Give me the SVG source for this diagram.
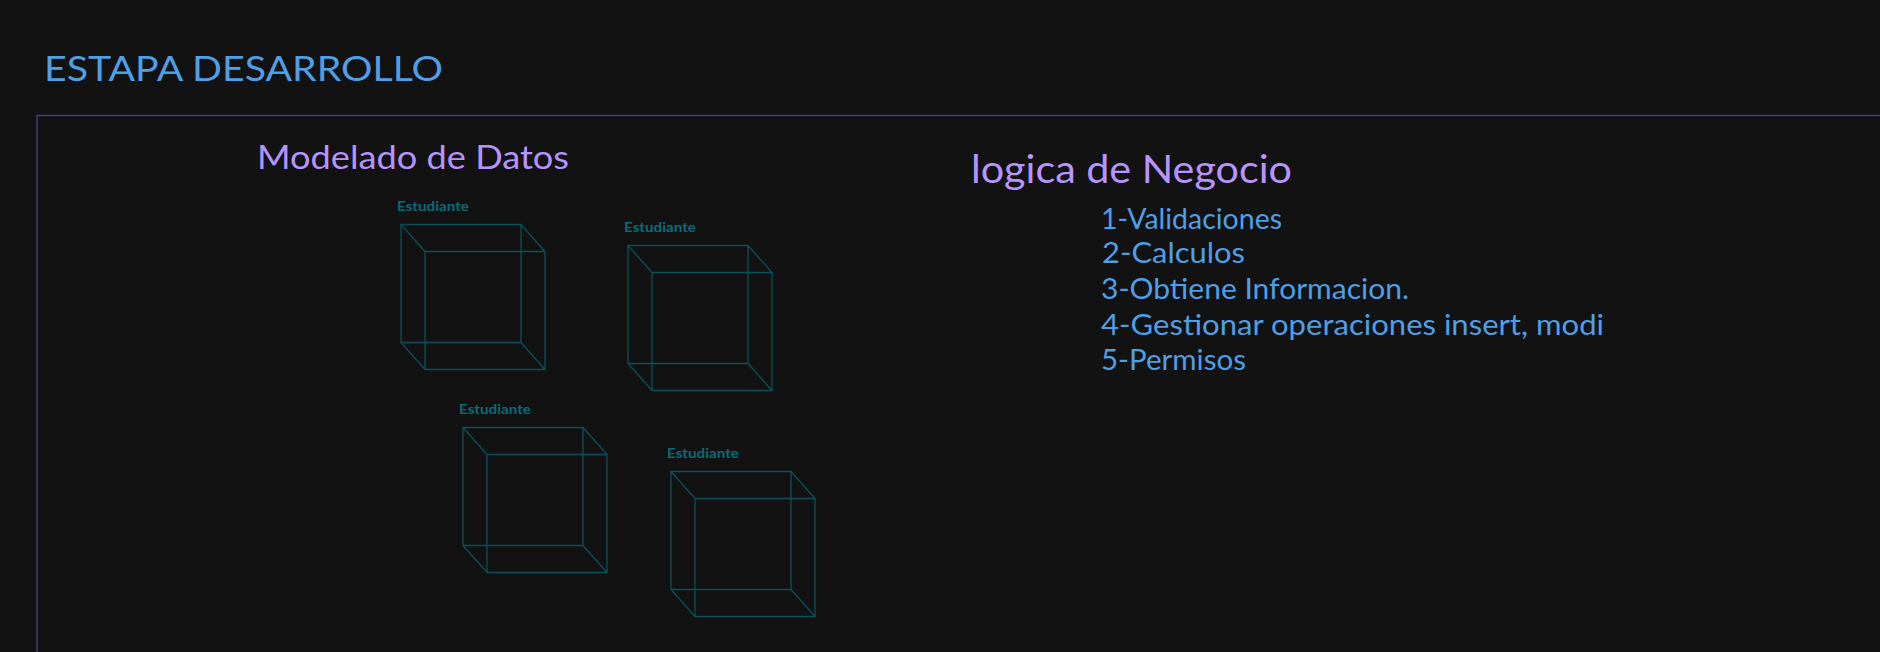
<svg xmlns="http://www.w3.org/2000/svg" width="1880" height="652" viewBox="0 0 1880 652">
<style>
text{font-family:"Lato","Noto Sans",sans-serif}
.cube{fill:none;stroke:#0a4f5a;stroke-width:1.300}
.lbl{fill:#0b6a7a;font-size:14px;font-weight:700}
.blue{fill:#4f9fe6}
.purple{fill:#b794ff}
.item{font-size:28px}
</style>
<rect width="1880" height="652" fill="#121212"/>
<g id="frame"><path d="M37 652V115.500H1880" fill="none" stroke="#4a3a78" stroke-width="1.500"/></g>
<g id="title"><text class="blue" x="44" y="81" font-size="35" textLength="399" lengthAdjust="spacingAndGlyphs">ESTAPA DESARROLLO</text></g>
<g id="modelado"><text class="purple" x="257" y="169" font-size="32" textLength="312" lengthAdjust="spacingAndGlyphs">Modelado de Datos</text></g>
<g id="logica"><text class="purple" x="971" y="183" font-size="38" textLength="321" lengthAdjust="spacingAndGlyphs">logica de Negocio</text></g>
<g id="list">
<text class="blue item" x="1101" y="229" textLength="181" lengthAdjust="spacingAndGlyphs">1-Validaciones</text>
<text class="blue item" x="1102" y="263" textLength="143" lengthAdjust="spacingAndGlyphs">2-Calculos</text>
<text class="blue item" x="1101" y="299" textLength="308" lengthAdjust="spacingAndGlyphs">3-Obtiene Informacion.</text>
<text class="blue item" x="1101" y="335" textLength="503" lengthAdjust="spacingAndGlyphs">4-Gestionar operaciones insert, modi</text>
<text class="blue item" x="1101" y="370" textLength="145" lengthAdjust="spacingAndGlyphs">5-Permisos</text>
</g>
<g id="cube1"><text class="lbl" x="397" y="211" textLength="72" lengthAdjust="spacingAndGlyphs">Estudiante</text><path class="cube" d="M401 224.500H521V342.500H401ZM425 251.500H545V369.500H425ZM401 224.500L425 251.500M521 224.500L545 251.500M401 342.500L425 369.500M521 342.500L545 369.500"/></g>
<g id="cube2"><text class="lbl" x="624" y="232" textLength="72" lengthAdjust="spacingAndGlyphs">Estudiante</text><path class="cube" d="M628 245.500H748V363.500H628ZM652 272.500H772V390.500H652ZM628 245.500L652 272.500M748 245.500L772 272.500M628 363.500L652 390.500M748 363.500L772 390.500"/></g>
<g id="cube3"><text class="lbl" x="459" y="414" textLength="72" lengthAdjust="spacingAndGlyphs">Estudiante</text><path class="cube" d="M463 427.500H583V545.500H463ZM487 454.500H607V572.500H487ZM463 427.500L487 454.500M583 427.500L607 454.500M463 545.500L487 572.500M583 545.500L607 572.500"/></g>
<g id="cube4"><text class="lbl" x="667" y="458" textLength="72" lengthAdjust="spacingAndGlyphs">Estudiante</text><path class="cube" d="M671 471.500H791V589.500H671ZM695 498.500H815V616.500H695ZM671 471.500L695 498.500M791 471.500L815 498.500M671 589.500L695 616.500M791 589.500L815 616.500"/></g>
</svg>
